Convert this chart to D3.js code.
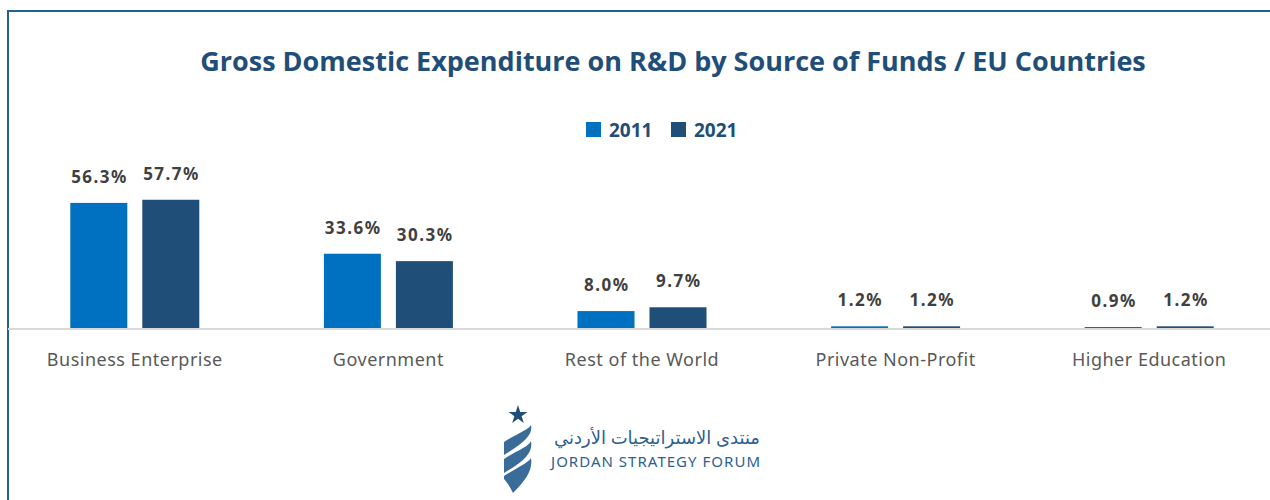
<!DOCTYPE html>
<html lang="en">
<head>
    <meta charset="UTF-8">
    <script src="https://cdn.jsdelivr.net/npm/d3@7"></script>
    <title>GERD by Source of Funds</title>
    <style>
        body { margin: 0; background: #fff; }
        svg { display: block; }
    </style>
</head>
<body>
    <div id="chart"></div>
    <script>
        // Data
        const categories = ["Business Enterprise", "Government", "Rest of the World", "Private Non-Profit", "Higher Education"];
        const years = ["2011", "2021"];
        const values2011 = [56.3, 33.6, 8.0, 1.2, 0.9];
        const values2021 = [57.7, 30.3, 9.7, 1.2, 1.2];
        const yearColors = ["#0070c0", "#1f4e79"];

        const width = 1270, height = 500;
        const baseY = 329;

        const svg = d3.select("#chart").append("svg")
            .attr("width", width)
            .attr("height", height);

        // frame
        svg.append("path")
            .attr("d", `M8,${height + 5} L8,11 L${width + 5},11`)
            .attr("fill", "none")
            .attr("stroke", "#1f6391")
            .attr("stroke-width", 2);

        // title
        svg.append("text")
            .attr("x", 673)
            .attr("y", 71)
            .attr("text-anchor", "middle")
            .style("font-family", "'Open Sans', sans-serif")
            .style("font-weight", "bold")
            .style("font-size", "27px")
            .style("fill", "#1f4e79")
            .text("Gross Domestic Expenditure on R&D by Source of Funds / EU Countries");

        // legend
        const legendX = [586, 671];
        const legend = svg.append("g");
        years.forEach((yr, i) => {
            legend.append("rect")
                .attr("x", legendX[i]).attr("y", 122)
                .attr("width", 15).attr("height", 15)
                .attr("fill", yearColors[i]);
            legend.append("text")
                .attr("x", legendX[i] + 23).attr("y", 137)
                .style("font-family", "'Open Sans', sans-serif")
                .style("font-weight", "bold")
                .style("font-size", "19px")
                .style("fill", "#1f4e79")
                .text(yr);
        });

        // scales
        const x0 = d3.scaleBand().domain(categories).range([8, 1276]).padding(0);
        const x1 = d3.scaleBand().domain(years).range([0, 129]).paddingInner(15 / 72);
        const y = d3.scaleLinear().domain([0, 60]).range([baseY, baseY - 60 * 2.24]);

        const series = [values2011, values2021];
        const data = categories.map((c, i) => ({ cat: c, vals: years.map((yr, j) => ({ yr, v: series[j][i], color: yearColors[j] })) }));

        const groups = svg.selectAll("g.grp").data(data).enter().append("g")
            .attr("class", "grp")
            .attr("transform", d => `translate(${x0(d.cat) + x0.bandwidth() / 2 - 64.5},0)`);

        groups.selectAll("rect").data(d => d.vals).enter().append("rect")
            .attr("x", d => x1(d.yr))
            .attr("y", d => y(d.v))
            .attr("width", x1.bandwidth())
            .attr("height", d => baseY - y(d.v))
            .attr("fill", d => d.color);

        groups.selectAll("text.val").data(d => d.vals).enter().append("text")
            .attr("class", "val")
            .attr("x", d => x1(d.yr) + x1.bandwidth() / 2 + 0.75)
            .attr("y", d => y(d.v) - 20)
            .attr("text-anchor", "middle")
            .style("font-family", "'Noto Sans', sans-serif")
            .style("font-weight", "bold")
            .style("font-size", "17px")
            .style("letter-spacing", "1.5px")
            .style("fill", "#404040")
            .text(d => d.v.toFixed(1) + "%");

        // axis
        const axis = svg.append("g").attr("transform", `translate(0,${baseY})`)
            .call(d3.axisBottom(x0).tickSize(0).tickPadding(24));
        axis.select(".domain").attr("stroke", "#d9d9d9").attr("stroke-width", 2)
            .attr("d", `M8,0H${width}`);
        axis.selectAll("text")
            .style("font-family", "'Noto Sans', sans-serif")
            .style("font-size", "18px")
            .style("letter-spacing", "0.5px")
            .style("fill", "#595959");

        // logo
        const logo = svg.append("g");
        logo.append("path")
            .attr("d", d3.symbol().type(d3.symbolStar).size(110)())
            .attr("transform", "translate(518,415)")
            .attr("fill", "#1f4e79");
        const swirl = [
            "M504,442 C518,433 528,430 531,425 C533,434 526,442 504,455 Z",
            "M504,459 C518,450 528,447 531,441 C533,452 526,460 504,473 Z",
            "M504,476 C518,467 528,463 531,458 C533,470 526,480 513,493 C510,487 507,482 504,479 Z"
        ];
        logo.selectAll("path.sw").data(swirl).enter().append("path")
            .attr("class", "sw")
            .attr("d", d => d)
            .attr("fill", "#3a6c99");
        logo.append("text")
            .attr("x", 760).attr("y", 444)
            .attr("text-anchor", "end")
            .style("font-family", "'Noto Sans', 'DejaVu Sans', sans-serif")
            .style("font-size", "18px")
            .style("fill", "#2f5f8f")
            .text("منتدى الاستراتيجيات الأردني");
        logo.append("text")
            .attr("x", 551).attr("y", 467)
            .attr("textLength", 209)
            .style("font-family", "'Noto Sans', sans-serif")
            .style("font-size", "15px")
            .style("fill", "#2f5f8f")
            .text("JORDAN STRATEGY FORUM");
    </script>
</body>
</html>
